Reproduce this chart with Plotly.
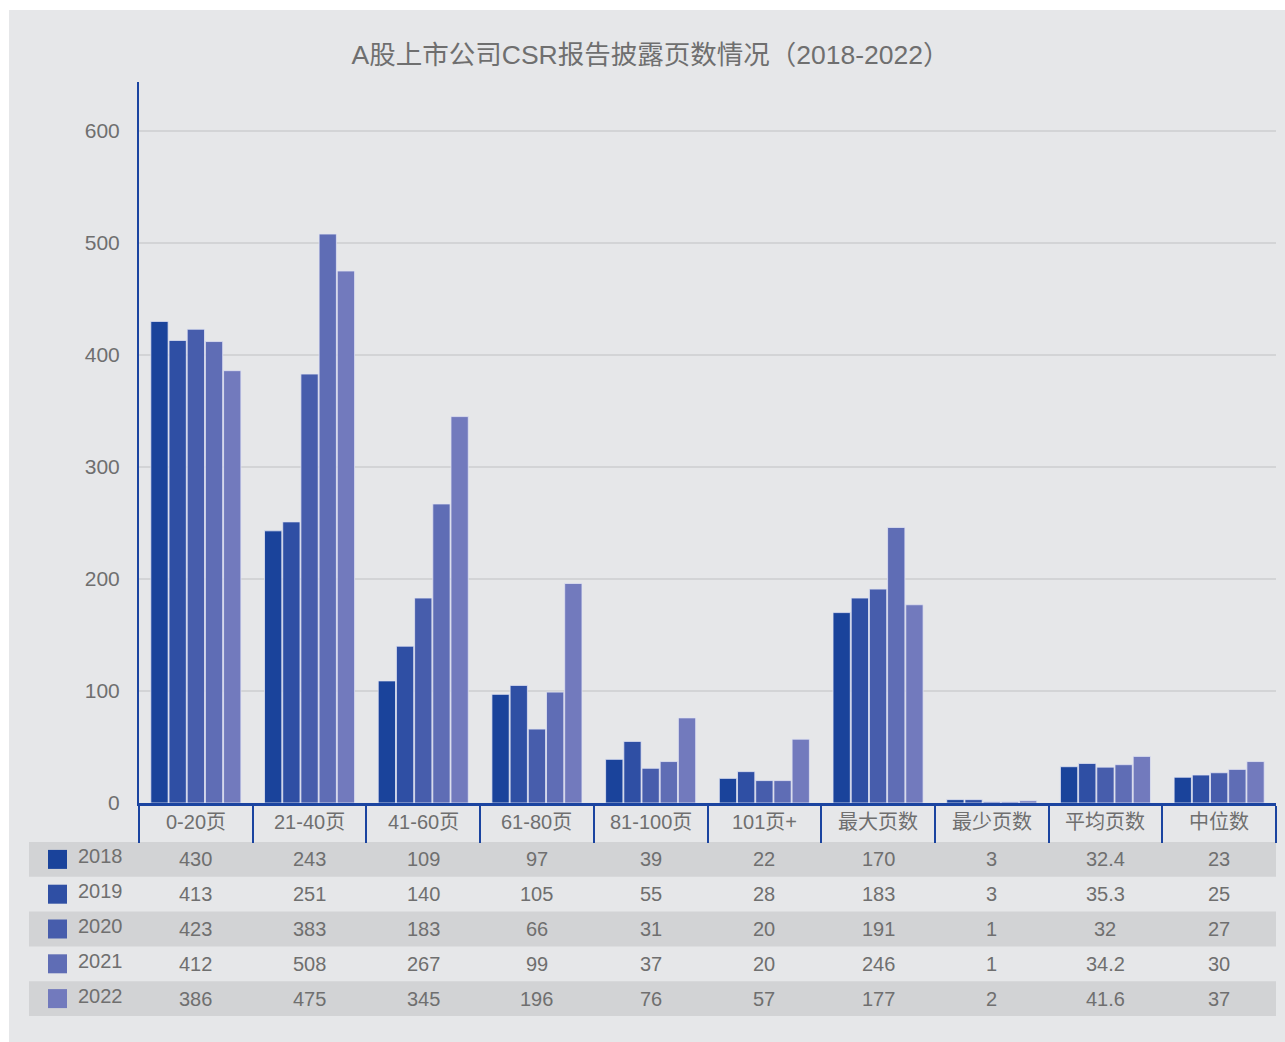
import plotly.graph_objects as go

# Page-count buckets and summary statistics for CSR reports
categories = ["0-20页", "21-40页", "41-60页", "61-80页", "81-100页", "101页+",
              "最大页数", "最少页数", "平均页数", "中位数"]
years = ["2018", "2019", "2020", "2021", "2022"]
values_2018 = [430, 243, 109, 97, 39, 22, 170, 3, 32.4, 23]
values_2019 = [413, 251, 140, 105, 55, 28, 183, 3, 35.3, 25]
values_2020 = [423, 383, 183, 66, 31, 20, 191, 1, 32, 27]
values_2021 = [412, 508, 267, 99, 37, 20, 246, 1, 34.2, 30]
values_2022 = [386, 475, 345, 196, 76, 57, 177, 2, 41.6, 37]
y_ticks = [0, 100, 200, 300, 400, 500, 600]

series = [values_2018, values_2019, values_2020, values_2021, values_2022]
colors = ["#1a439b", "#2f4fa4", "#475dac", "#5f6db5", "#727abd"]

W, H = 1285, 1042
L, R, T, B = 139, 1276, 82, 803          # plot area in pixels
plot_h = B - T
px_per_unit = 1.12
y_top = plot_h / px_per_unit

FONT = "Liberation Sans, Arial, Noto Sans CJK SC, sans-serif"
TEXT = "#6f6f6f"
BLUE = "#1b44a0"
PANEL = "#e6e7e9"
ROW_DARK = "#d2d3d5"


def py(p):
    """pixel row -> paper y"""
    return (B - p) / plot_h


def px(p):
    """pixel column -> paper x"""
    return (p - L) / (R - L)


fig = go.Figure()
for name, vals, col in zip(years, series, colors):
    fig.add_trace(go.Bar(
        x=categories, y=vals, name=name,
        marker=dict(color=col, line=dict(color="rgba(225,228,242,0.8)", width=1)),
        hoverinfo="x+y+name",
    ))

shapes = []
# grey panel
shapes.append(dict(type="rect", xref="paper", yref="paper", layer="below",
                   x0=px(9), x1=px(1285 + 5), y0=py(1042 + 5), y1=py(10),
                   fillcolor=PANEL, line=dict(width=0)))

annotations = []
# category labels under the axis, between the boundary ticks
for cat in categories:
    annotations.append(dict(x=cat, y=py(822), xref="x", yref="paper",
                            text=cat, showarrow=False,
                            xanchor="center", yanchor="middle",
                            font=dict(family=FONT, size=20, color=TEXT)))

row_top = 842
row_h = 34.8
for i, (name, vals, col) in enumerate(zip(years, series, colors)):
    y0 = row_top + i * row_h
    y1 = y0 + row_h
    yc = (y0 + y1) / 2
    if i % 2 == 0:
        shapes.append(dict(type="rect", xref="paper", yref="paper", layer="below",
                           x0=px(29), x1=px(1276), y0=py(y1), y1=py(y0),
                           fillcolor=ROW_DARK, line=dict(width=0)))
    # legend swatch
    shapes.append(dict(type="rect", xref="paper", yref="paper",
                       x0=px(48), x1=px(67), y0=py(yc + 9.5), y1=py(yc - 9.5),
                       fillcolor=col, line=dict(width=0)))
    annotations.append(dict(x=px(76), y=py(yc - 3), xref="paper", yref="paper",
                            text=name, showarrow=False, xanchor="left", yanchor="middle",
                            font=dict(family=FONT, size=20, color=TEXT)))
    for cat, v in zip(categories, vals):
        annotations.append(dict(x=cat, y=py(yc), xref="x", yref="paper",
                                text=f"{v:g}", showarrow=False,
                                xanchor="center", yanchor="middle",
                                font=dict(family=FONT, size=20, color=TEXT)))

fig.update_layout(
    width=W, height=H,
    margin=dict(l=L, r=W - R, t=T, b=H - B, pad=0),
    paper_bgcolor="white", plot_bgcolor=PANEL,
    showlegend=False,
    barmode="group", bargap=0.2, bargroupgap=0.05,
    title=dict(text="A股上市公司CSR报告披露页数情况（2018-2022）",
               x=0.5 + 8 / W, xref="container", xanchor="center",
               y=1 - 55 / H, yanchor="middle",
               font=dict(family=FONT, size=26.5, color=TEXT)),
    font=dict(family=FONT, color=TEXT),
    shapes=shapes, annotations=annotations,
)

fig.update_xaxes(
    type="category", categoryorder="array", categoryarray=categories,
    showline=True, linecolor=BLUE, linewidth=3,
    ticks="outside", tickson="boundaries", ticklen=37, tickwidth=2, tickcolor=BLUE,
    showticklabels=False,
    showgrid=False,
)
fig.update_yaxes(
    range=[0, y_top], tickvals=y_ticks,
    showline=True, linecolor=BLUE, linewidth=2,
    showgrid=True, gridcolor="#d3d4d6", gridwidth=2,
    zeroline=False,
    ticks="", ticklabelstandoff=13,
    tickfont=dict(family=FONT, size=21, color=TEXT),
)

fig.write_html("out.html")
